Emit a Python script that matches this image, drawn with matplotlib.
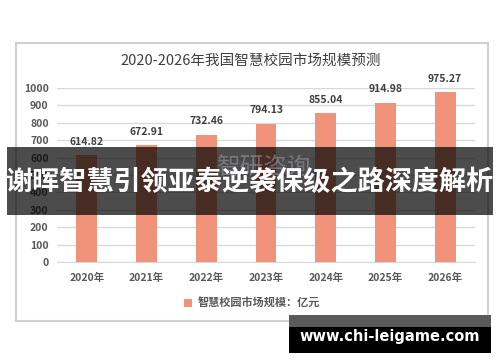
import matplotlib
matplotlib.use("Agg")
import matplotlib.pyplot as plt
from matplotlib.patches import Rectangle

plt.rcParams['font.family'] = ['Noto Sans CJK SC', 'DejaVu Sans']

# data
years = ['2020年', '2021年', '2022年', '2023年', '2024年', '2025年', '2026年']
market_size = [614.82, 672.91, 732.46, 794.13, 855.04, 914.98, 975.27]
y_ticks = [0, 100, 200, 300, 400, 500, 600, 700, 800, 900, 1000]

title = '2020-2026年我国智慧校园市场规模预测'
legend_label = '智慧校园市场规模：亿元'
banner_text = '谢晖智慧引领亚泰逆袭保级之路深度解析'
url_text = 'www.chi-leigame.com'

W, H = 500, 362
BAR = '#F0937A'
TXT = '#595959'


def px(x, y):
    # pixel (top-left origin) -> figure fraction
    return x / W, 1 - y / H


fig = plt.figure(figsize=(W / 100, H / 100), dpi=100)

# chart frame
fig.add_artist(Rectangle(px(16, 321), 472 / W, 278 / H, transform=fig.transFigure,
                         facecolor='white', edgecolor='#d0d0d0', lw=1.5, zorder=0))

left, bottom = px(57, 262)
ax = fig.add_axes([left, bottom, (475 - 57) / W, (262 - 88) / H])
ax.set_facecolor('none')

x = range(len(years))
bars = ax.bar(x, market_size, width=0.35, color=BAR, zorder=3)
for xi, v in zip(x, market_size):
    ax.annotate(f'{v:.2f}', (xi, v), xytext=(0, 6), textcoords='offset points',
                ha='center', va='bottom', fontsize=7.5, fontweight='bold', color='#404040')

ax.set_xlim(-0.5, 6.5)
ax.set_ylim(0, 1000)
ax.set_yticks(y_ticks)
ax.set_xticks(list(x))
ax.set_xticklabels(years)
ax.yaxis.grid(True, color='#d9d9d9', lw=1, zorder=0)
ax.set_axisbelow(True)
for s in ['top', 'right', 'left']:
    ax.spines[s].set_visible(False)
ax.spines['bottom'].set_color('#d9d9d9')
ax.tick_params(length=0, labelsize=7.5, labelcolor=TXT)
ax.tick_params(axis='x', pad=8)
ax.tick_params(axis='y', pad=6)
for lab in ax.get_xticklabels() + ax.get_yticklabels():
    lab.set_fontweight('bold')

fx, fy = px(251, 61)
fig.text(fx, fy, title, ha='center', va='center', fontsize=10.5, color='#404040')

lx, ly = px(252, 303)
fig.legend([bars], [legend_label], loc='center', bbox_to_anchor=(lx, ly), frameon=False,
           handlelength=0.7, handleheight=0.7, handletextpad=0.5,
           prop={'size': 8, 'weight': 'bold'}, labelcolor=TXT)

# dark banner with headline
fig.add_artist(Rectangle(px(7, 215), 486 / W, 68 / H, transform=fig.transFigure,
                         facecolor='black', alpha=0.7, edgecolor='none', zorder=5))

# faint watermark, shows through the banner
wx, wy = px(263, 168)
fig.text(wx, wy, '智研咨询', ha='center', va='center', fontsize=17, color='#9a9ea8',
         alpha=0.55, zorder=5.5)

bx, by = px(250, 182)
fig.text(bx, by, banner_text, ha='center', va='center', fontsize=19.5, fontweight='bold',
         color='white', zorder=6)

# url box
fig.add_artist(Rectangle(px(289, 327), 202 / W, 12 / H, transform=fig.transFigure,
                         facecolor='#5a5a5a', edgecolor='none', zorder=5))
fig.add_artist(Rectangle(px(289, 353), 202 / W, 26 / H, transform=fig.transFigure,
                         facecolor='black', edgecolor='none', zorder=5))
ux, uy = px(390, 337)
fig.text(ux, uy, url_text, ha='center', va='center', fontsize=10.5, fontweight='bold',
         color='white', family='DejaVu Sans', zorder=6)

fig.savefig('out.png', dpi=100)
